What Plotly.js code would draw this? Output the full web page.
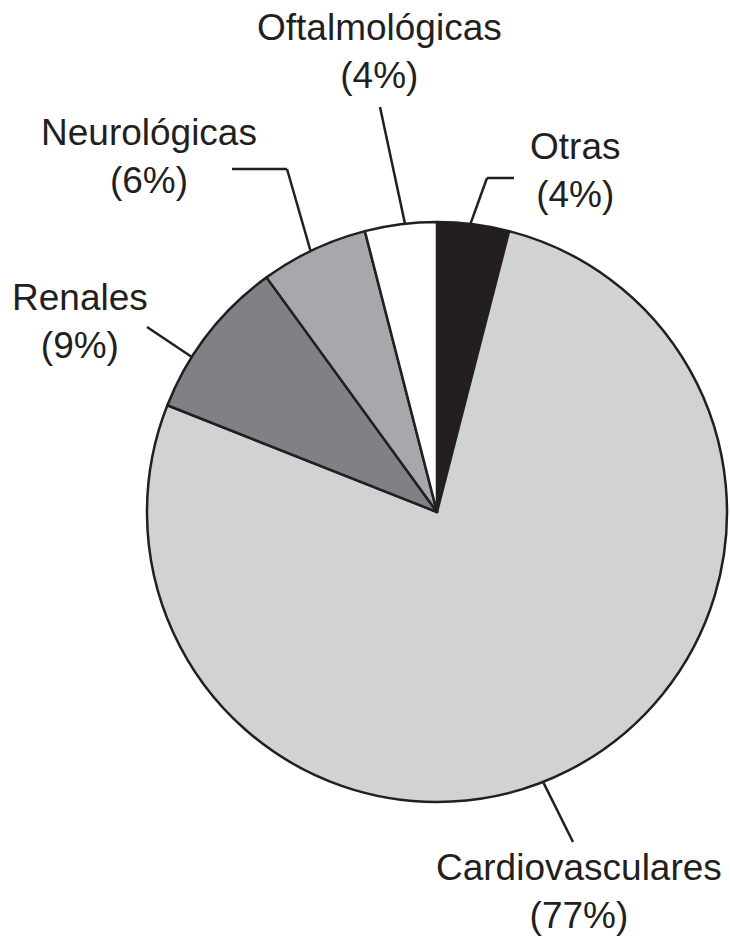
<!DOCTYPE html>
<html>
<head>
<meta charset="utf-8">
<script src="https://cdn.plot.ly/plotly-3.0.1.min.js"></script>
<style>html,body{margin:0;padding:0;background:#fff;}</style>
</head>
<body>
<div id="plot" style="width:730px;height:942px;"></div>
<script>
// data, clockwise from 12 o'clock
const categories = ['Otras', 'Cardiovasculares', 'Renales', 'Neurológicas', 'Oftalmológicas'];
const percentages = [4, 77, 9, 6, 4];
const sliceColors = ['#231f20', '#d1d2d4', '#808184', '#a6a8ab', '#ffffff'];

const W = 730, H = 942;
// pie box in pixels
const pieBox = {left: 147, right: 727, top: 222, bottom: 802};
const cx = (pieBox.left + pieBox.right) / 2;
const cy = (pieBox.top + pieBox.bottom) / 2;
const radius = (pieBox.right - pieBox.left) / 2;

// where each leader line leaves the slice (fraction along the slice),
// its bend / end points and the label centre, in pixels
const labelLayout = [
    {t: 0.46, path: [[487, 178], [514, 178]], at: [575, 171]},
    {t: 0.52, path: [[573, 842]], at: [579, 891]},
    {t: 0.33, path: [[147, 327]], at: [80, 321]},
    {t: 0.47, path: [[287, 169], [232, 169]], at: [149, 157]},
    {t: 0.56, path: [[380, 107]], at: [379, 52]},
];

const px = x => x / W;
const py = y => 1 - y / H;

const labelFont = {family: '"Liberation Sans", Arial, sans-serif', size: 37, color: '#231f20'};

function sliceAnchor(i, t) {
    const total = percentages.reduce((a, b) => a + b, 0);
    const start = percentages.slice(0, i).reduce((a, b) => a + b, 0) / total;
    const end = start + percentages[i] / total;
    const ang = (start + t * (end - start)) * 2 * Math.PI;
    return [cx + radius * Math.sin(ang), cy - radius * Math.cos(ang)];
}

const shapes = [];
const annotations = [];
categories.forEach((cat, i) => {
    const lay = labelLayout[i];
    let prev = sliceAnchor(i, lay.t);
    lay.path.forEach(pt => {
        shapes.push({
            type: 'line', xref: 'paper', yref: 'paper',
            x0: px(prev[0]), y0: py(prev[1]), x1: px(pt[0]), y1: py(pt[1]),
            line: {color: '#231f20', width: 2.5}
        });
        prev = pt;
    });
    annotations.push({
        xref: 'paper', yref: 'paper', x: px(lay.at[0]), y: py(lay.at[1]),
        xanchor: 'center', yanchor: 'middle', align: 'center',
        text: cat + '<br>(' + percentages[i] + '%)',
        showarrow: false, font: labelFont
    });
});

const trace = {
    type: 'pie',
    labels: categories,
    values: percentages,
    sort: false,
    direction: 'clockwise',
    rotation: 0,
    textinfo: 'none',
    hoverinfo: 'label+percent',
    showlegend: false,
    marker: {colors: sliceColors, line: {color: '#231f20', width: 2.5}},
    domain: {x: [pieBox.left / W, pieBox.right / W], y: [1 - pieBox.bottom / H, 1 - pieBox.top / H]}
};

const layout = {
    width: W,
    height: H,
    margin: {l: 0, r: 0, t: 0, b: 0},
    paper_bgcolor: '#ffffff',
    showlegend: false,
    shapes: shapes,
    annotations: annotations
};

Plotly.newPlot('plot', [trace], layout, {displayModeBar: false, staticPlot: true});
</script>
</body>
</html>
